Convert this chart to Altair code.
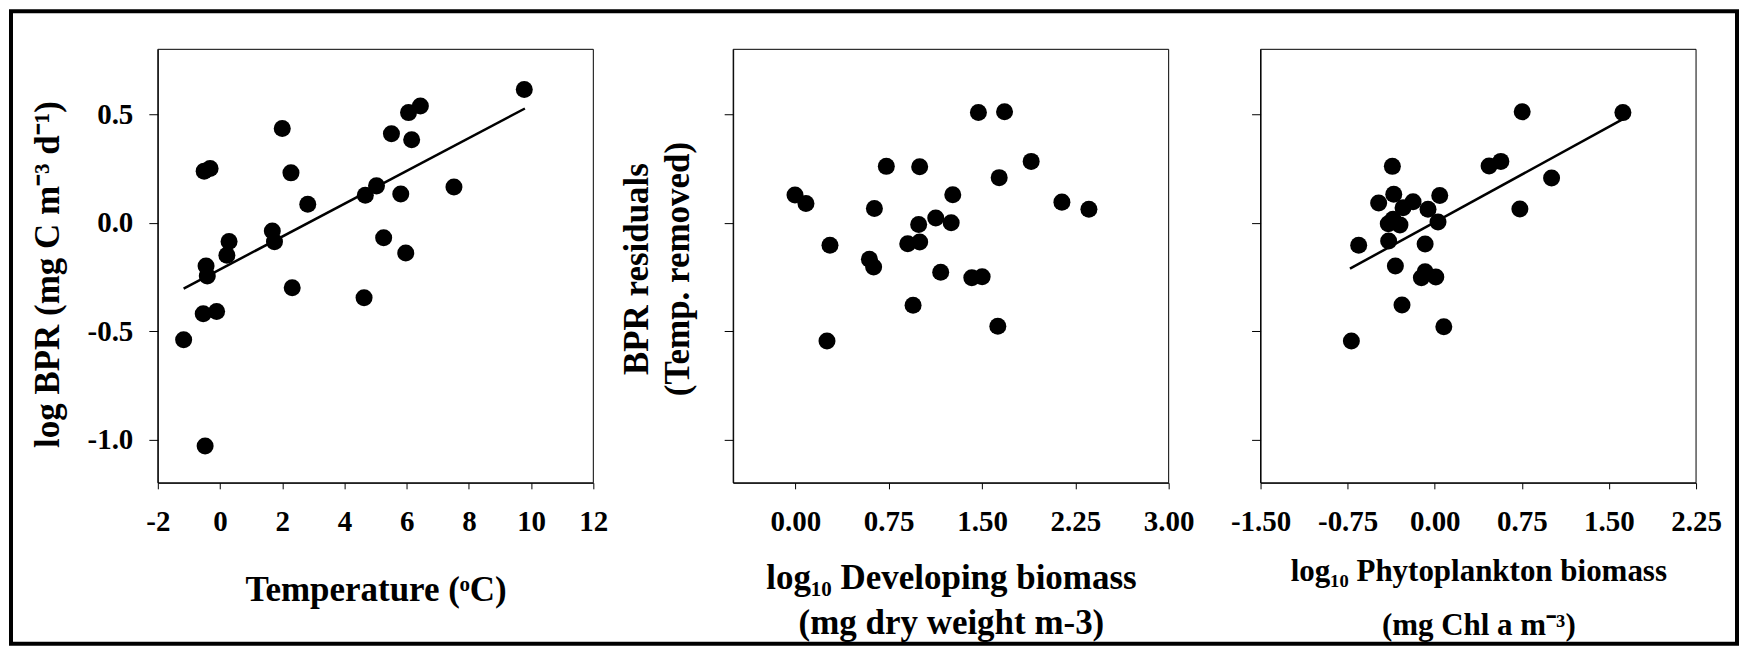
import altair as alt
import pandas as pd

# ---------------- data ----------------
# Panel 1: temperature vs log BPR
temp = [-1.17, -0.51, -0.32, -0.45, -0.41, -0.54, -0.11, -0.48, 0.29, 0.22,
        1.68, 1.75, 2.00, 2.28, 2.32, 2.82, 4.63, 4.67, 5.03, 5.26,
        5.51, 5.81, 5.97, 6.06, 6.16, 6.44, 7.52, 9.78]
log_bpr = [-0.54, 0.238, 0.25, -0.20, -0.246, -0.42, -0.41, -1.03, -0.087, -0.15,
           -0.038, -0.088, 0.435, 0.23, -0.30, 0.085, -0.346, 0.127, 0.17, -0.069,
           0.41, 0.133, -0.14, 0.508, 0.383, 0.538, 0.165, 0.615]
fit1_x = [-1.17, 9.80]
fit1_y = [-0.304, 0.527]

# Panel 2: developing biomass vs residuals
dev_biomass = [1.471, 1.681, 0.731, 0.999, 1.895, 1.638, -0.003, 0.085, 1.265, 0.635,
               2.142, 2.359, 1.128, 1.252, 0.991, 0.903, 0.999, 0.278, 0.595, 0.629,
               1.168, 1.418, 1.501, 0.946, 1.627, 0.254]
resid_dev = [0.509, 0.512, 0.260, 0.258, 0.283, 0.208, 0.128, 0.089, 0.129, 0.066,
             0.095, 0.062, 0.022, 0.000, -0.008, -0.097, -0.089, -0.104, -0.169, -0.204,
             -0.229, -0.254, -0.249, -0.381, -0.478, -0.546]

# Panel 3: phytoplankton biomass vs residuals
phyto = [0.753, 1.620, -0.365, 0.468, 0.569, 1.006, 0.043, -0.353, -0.483, -0.187,
         -0.273, -0.058, 0.733, -0.359, -0.400, -0.300, 0.028, -0.655, -0.397, -0.083,
         -0.339, -0.083, -0.115, 0.009, -0.282, 0.078, -0.718]
resid_phyto = [0.512, 0.508, 0.260, 0.262, 0.283, 0.206, 0.126, 0.131, 0.091, 0.097,
               0.069, 0.062, 0.063, 0.016, -0.005, -0.010, 0.003, -0.104, -0.084, -0.098,
               -0.200, -0.226, -0.254, -0.250, -0.380, -0.480, -0.546]
fit3_x = [-0.73, 1.62]
fit3_y = [-0.212, 0.478]

# axes
x1_domain = [-2, 12]
x2_domain = [-0.5, 3.0]
x3_domain = [-1.5, 2.25]
y_domain = [-1.2, 0.8]
x1_ticks = [-2, 0, 2, 4, 6, 8, 10, 12]
x2_ticks = [0.0, 0.75, 1.5, 2.25, 3.0]
x3_ticks = [-1.5, -0.75, 0.0, 0.75, 1.5, 2.25]
y_ticks = [-1.0, -0.5, 0.0, 0.5]

y1_title = "log BPR (mg C m\u207b\u00b3 d\u207b\u00b9)"
y2_title = ["BPR residuals", "(Temp. removed)"]
x1_title = "Temperature (\u1d52C)"
x2_title = ["log\u2081\u2080 Developing biomass", "(mg dry weight m-3)"]
x3_title = ["log\u2081\u2080 Phytoplankton biomass", "(mg Chl a m\u207b\u00b3)"]

# ---------------- styling ----------------
FONT = "Liberation Serif"
PLOT_W = 436
PLOT_H = 434
TICK_FS = 29


def fmt(f):
    return (f"datum.value < 0 ? '-' + format(-datum.value, '{f}') "
            f": format(datum.value, '{f}')")


def x_axis(ticks, f, title, title_y, title_fs, line_h=44):
    return alt.Axis(values=ticks, labelExpr=fmt(f), title=title, grid=False,
                    tickSize=6, labelPadding=42, labelBaseline="alphabetic",
                    labelFontSize=TICK_FS, labelFont=FONT, labelFontWeight="bold",
                    labelColor="black", labelFlush=False, labelOverlap=False,
                    domainColor="black", tickColor="black",
                    titleFont=FONT, titleFontSize=title_fs, titleFontWeight="bold",
                    titleColor="black", titleX=PLOT_W / 2, titleY=title_y,
                    titleAlign="center", titleBaseline="alphabetic",
                    titleLineHeight=line_h)


def y_axis(show_labels, title=None, title_x=-99, title_y=225, line_h=41):
    kw = dict(values=y_ticks, grid=False, tickSize=9, labels=show_labels,
              domainColor="black", tickColor="black")
    if show_labels:
        kw.update(labelExpr=fmt(".1f"), labelPadding=16, labelFontSize=TICK_FS,
                  labelFont=FONT, labelFontWeight="bold", labelColor="black",
                  labelBaseline="middle")
    if title is not None:
        kw.update(title=title, titleFont=FONT, titleFontSize=35,
                  titleFontWeight="bold", titleColor="black", titleAngle=270,
                  titleX=title_x, titleY=title_y, titleAlign="center",
                  titleBaseline="alphabetic", titleLineHeight=line_h)
    else:
        kw.update(title=None)
    return alt.Axis(**kw)


def panel(xs, ys, fit_x, fit_y, x_dom, xax, yax, cell_w):
    xscale = alt.Scale(domain=x_dom, range=[0, PLOT_W], nice=False, zero=False)
    yscale = alt.Scale(domain=y_domain, nice=False, zero=False)
    pts = pd.DataFrame({"x": xs, "y": ys})
    box = pd.DataFrame({"x": [x_dom[0]], "x2": [x_dom[1]],
                        "y": [y_domain[0]], "y2": [y_domain[1]]})
    layers = [
        alt.Chart(box).mark_rect(fillOpacity=0, stroke="black", strokeWidth=1).encode(
            x=alt.X("x:Q", scale=xscale, axis=xax),
            x2="x2:Q",
            y=alt.Y("y:Q", scale=yscale, axis=yax),
            y2="y2:Q",
        ),
        alt.Chart(pts).mark_circle(size=290, color="black", opacity=1).encode(
            x="x:Q", y="y:Q"),
    ]
    if fit_x is not None:
        fit = pd.DataFrame({"x": fit_x, "y": fit_y})
        layers.append(alt.Chart(fit).mark_line(color="black", strokeWidth=2.5).encode(
            x="x:Q", y="y:Q"))
    return alt.layer(*layers).properties(width=cell_w, height=PLOT_H)


p1 = panel(temp, log_bpr, fit1_x, fit1_y, x1_domain,
           x_axis(x1_ticks, "d", x1_title, 118, 35),
           y_axis(True, y1_title, -99, 225), 576)

# outer frame of the figure
frame = alt.Chart(pd.DataFrame({"k": [0]})).mark_rect(
    fillOpacity=0, stroke="black", strokeWidth=4).encode(
    x=alt.value(-147), x2=alt.value(1581), y=alt.value(-38), y2=alt.value(595))
p1 = alt.layer(p1, frame)

p2 = panel(dev_biomass, resid_dev, None, None, x2_domain,
           x_axis(x2_ticks, ".2f", x2_title, 106, 35, 45),
           y_axis(False, y2_title, -86, 219.5, 41), 528)

p3 = panel(phyto, resid_phyto, fit3_x, fit3_y, x3_domain,
           x_axis(x3_ticks, ".2f", x3_title, 98, 31, 54),
           y_axis(False), PLOT_W - 1)

chart = alt.hconcat(p1, p2, p3, spacing=0, bounds="flush").properties(
    padding=0, background="white"
).configure_view(stroke="transparent")

chart.save("out.html", embed_options={"renderer": "svg", "actions": False})
